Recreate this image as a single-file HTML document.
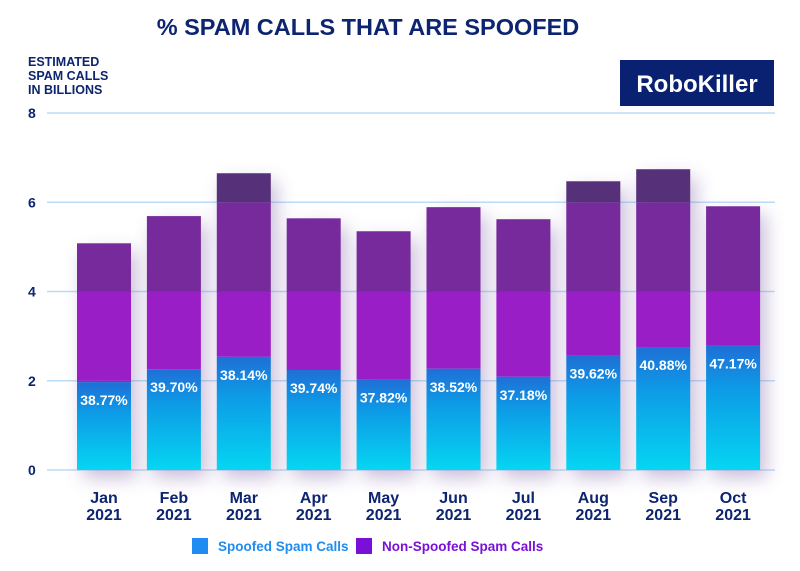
<!DOCTYPE html>
<html><head><meta charset="utf-8">
<style>
html,body{margin:0;padding:0;background:#fff;}
body{width:800px;height:566px;overflow:hidden;font-family:"Liberation Sans","DejaVu Sans",sans-serif;}
</style></head>
<body>
<svg width="800" height="566" viewBox="0 0 800 566" xmlns="http://www.w3.org/2000/svg">
<defs>
<linearGradient id="blue" x1="0" y1="0" x2="0" y2="1">
<stop offset="0" stop-color="#1f6fd6"/><stop offset="0.35" stop-color="#0d9be6"/><stop offset="1" stop-color="#05d6f2"/></linearGradient>
<filter id="sh" x="-50%" y="-20%" width="200%" height="140%"><feGaussianBlur stdDeviation="9"/></filter>
</defs>
<text x="368" y="35" text-anchor="middle" font-size="23.5" font-weight="bold" fill="#0d2470">% SPAM CALLS THAT ARE SPOOFED</text>
<g font-size="12.5" font-weight="bold" fill="#0d2470">
<text x="28" y="66">ESTIMATED</text><text x="28" y="80">SPAM CALLS</text><text x="28" y="94">IN BILLIONS</text></g>
<g>
<rect x="620" y="60" width="154" height="46" fill="#0a2172"/>
<text x="697" y="92" text-anchor="middle" font-size="24" font-weight="bold" fill="#fff">RoboKiller</text></g>
<g id="grid"></g><g id="shadows"></g><g id="bars"></g><g id="xlabels"></g>
<g>
<g><rect x="192" y="538" width="16" height="16" fill="#1e8cf0"/><text x="218" y="551" font-size="13.5" font-weight="bold" fill="#1e8cf0">Spoofed Spam Calls</text></g>
<g><rect x="356" y="538" width="16" height="16" fill="#7a10d8"/><text x="382" y="551" font-size="13.5" font-weight="bold" fill="#7a10d8">Non-Spoofed Spam Calls</text></g>
</g>
</svg>
<script>
const categories=["Jan","Feb","Mar","Apr","May","Jun","Jul","Aug","Sep","Oct"];
const years=["2021","2021","2021","2021","2021","2021","2021","2021","2021","2021"];
const totals=[5.08,5.69,6.65,5.64,5.35,5.89,5.62,6.47,6.74,5.91];
const spoofedPct=[38.77,39.70,38.14,39.74,37.82,38.52,37.18,39.62,40.88,47.17];
const yTicks=[0,2,4,6,8];
const NS="http://www.w3.org/2000/svg";
const y0=470,yTop=113,yMax=8;
const y=v=>y0-(v/yMax)*(y0-yTop);
const x=i=>77+i*69.9;
const bw=54;
function mk(t,a,p){const e=document.createElementNS(NS,t);for(const k in a)e.setAttribute(k,a[k]);p.appendChild(e);return e;}
const grid=document.getElementById('grid'),bars=document.getElementById('bars'),sh=document.getElementById('shadows'),xl=document.getElementById('xlabels');
yTicks.forEach(t=>{
 const l=mk('line',{x1:47,x2:775,y1:y(t),y2:y(t),stroke:'#bcdcf6','stroke-width':1.5},grid);
 
 
 const tx=mk('text',{x:28,y:y(t)+5,'font-size':14,'font-weight':'bold',fill:'#0d2470'},grid);
 tx.textContent=t;
 
 
});
const bands=[[0,2,'#9c1cc8'],[2,4,'#9a1ec6'],[4,6,'#762a9c'],[6,8,'#563078']];
categories.forEach((c,i)=>{
 const tot=totals[i],sp=tot*spoofedPct[i]/100,bx=x(i);
 const s=mk('rect',{x:bx+6,y:y(tot)+8,width:bw,height:y0-y(tot),fill:'#8a70b0',opacity:0.45,filter:'url(#sh)'},sh);
 
 
 const g=mk('g',{},bars);
 
 
 bands.forEach(b=>{
  const lo=Math.max(b[0],sp),hi=Math.min(b[1],tot);
  if(hi>lo){const r=mk('rect',{x:bx,y:y(hi),width:bw,height:y(lo)-y(hi),fill:b[2]},g);
   
   }
 });
 const b=mk('rect',{x:bx,y:y(sp),width:bw,height:y0-y(sp),fill:'url(#blue)'},g);
 
 
 const t=mk('text',{x:bx+bw/2,y:y(sp)+23,'text-anchor':'middle','font-size':14,'font-weight':'bold',fill:'#fff'},g);
 t.textContent=spoofedPct[i].toFixed(2)+'%';
 
 
 const m=mk('text',{x:bx+bw/2,y:503,'text-anchor':'middle','font-size':16,'font-weight':'bold',fill:'#0d2470'},xl);
 m.textContent=c;
 
 
 const yr=mk('text',{x:bx+bw/2,y:520,'text-anchor':'middle','font-size':16,'font-weight':'bold',fill:'#0d2470'},xl);
 yr.textContent=years[i];
 
 
});
</script>
</body></html>
